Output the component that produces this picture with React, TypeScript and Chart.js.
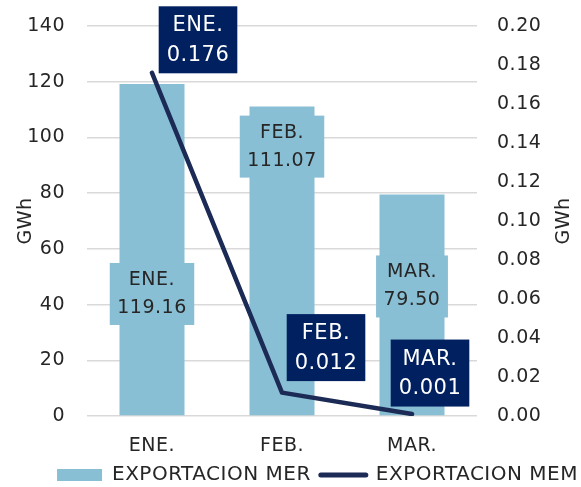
import React, { useEffect, useRef } from 'react';
import { Chart, registerables } from 'chart.js';

Chart.register(...registerables);

// ---------- data ----------
const categories = ['ENE.', 'FEB.', 'MAR.'];
const merValues = [119.16, 111.07, 79.5];
const memValues = [0.176, 0.012, 0.001];
const merLabels = ['119.16', '111.07', '79.50'];
const memLabels = ['0.176', '0.012', '0.001'];
const seriesNames = ['EXPORTACION MER', 'EXPORTACION MEM'];
const axisTitle = 'GWh';

// ---------- label placement (manual, like the source) ----------
const BAR_LABEL_CENTER = [43.8, 96.7, 46.5]; // in GWh (left axis units)
const LINE_LABEL_OFFSET = [
  [46, -33],
  [44, -45],
  [18, -41],
];

// ---------- styles ----------
const FONT = 'DejaVu Sans';
const LS = '0.5px';
const BAR_COLOR = '#89BFD4';
const LINE_COLOR = '#1C2A56';
const BOX_NAVY = '#002060';
const TEXT = '#262626';
const GRID = '#D9D9D9';

const labelsPlugin = {
  id: 'boxLabels',
  beforeUpdate(chart: any) {
    chart.ctx.letterSpacing = LS;
  },
  beforeDraw(chart: any) {
    chart.ctx.letterSpacing = LS;
  },
  afterLayout(chart: any) {
    const lg = chart.legend;
    if (lg) {
      const dx = 27;
      lg.left += dx;
      lg.right += dx;
    }
  },
  afterDatasetsDraw(chart: any) {
    const ctx = chart.ctx;
    const yS = chart.scales.y;
    const barMeta = chart.getDatasetMeta(0);
    const lineMeta = chart.getDatasetMeta(1);
    ctx.save();
    ctx.letterSpacing = LS;
    ctx.textAlign = 'center';
    ctx.textBaseline = 'middle';

    ctx.font = `19px "${FONT}"`;
    barMeta.data.forEach((el: any, i: number) => {
      const lines = [categories[i], merLabels[i]];
      const w = Math.max(...lines.map((t) => ctx.measureText(t).width)) + 15;
      const h = 62;
      const cx = el.x;
      const cy = yS.getPixelForValue(BAR_LABEL_CENTER[i]);
      ctx.fillStyle = BAR_COLOR;
      ctx.fillRect(cx - w / 2, cy - h / 2, w, h);
      ctx.fillStyle = TEXT;
      ctx.fillText(lines[0], cx, cy - 14);
      ctx.fillText(lines[1], cx, cy + 14);
    });

    ctx.font = `21px "${FONT}"`;
    lineMeta.data.forEach((el: any, i: number) => {
      const lines = [categories[i], memLabels[i]];
      const w = Math.max(...lines.map((t) => ctx.measureText(t).width)) + 16;
      const h = 67;
      const cx = el.x + LINE_LABEL_OFFSET[i][0];
      const cy = el.y + LINE_LABEL_OFFSET[i][1];
      ctx.fillStyle = BOX_NAVY;
      ctx.fillRect(cx - w / 2, cy - h / 2, w, h);
      ctx.fillStyle = '#FFFFFF';
      ctx.fillText(lines[0], cx, cy - 14);
      ctx.fillText(lines[1], cx, cy + 15.5);
    });
    ctx.restore();
  },
  afterDraw(chart: any) {
    const ctx = chart.ctx;
    const area = chart.chartArea;
    ctx.save();
    ctx.letterSpacing = LS;
    ctx.font = `19px "${FONT}"`;
    ctx.fillStyle = TEXT;
    ctx.textAlign = 'center';
    ctx.textBaseline = 'middle';
    ctx.translate(564, (area.top + area.bottom) / 2);
    ctx.rotate(-Math.PI / 2);
    ctx.fillText(axisTitle, 0, 0);
    ctx.restore();
  },
};

export default function App() {
  const ref = useRef<HTMLCanvasElement>(null);

  useEffect(() => {
    document.body.style.margin = '0';
    const canvas = ref.current!;
    const font = { family: FONT, size: 19 };
    const chart = new Chart(canvas, {
      type: 'bar',
      data: {
        labels: categories,
        datasets: [
          {
            type: 'bar',
            label: seriesNames[0],
            data: merValues,
            backgroundColor: BAR_COLOR,
            borderWidth: 0,
            barPercentage: 0.5,
            categoryPercentage: 1.0,
            yAxisID: 'y',
            order: 1,
          },
          {
            type: 'line',
            label: seriesNames[1],
            data: memValues,
            borderColor: LINE_COLOR,
            backgroundColor: LINE_COLOR,
            borderWidth: 4.5,
            borderCapStyle: 'round',
            borderJoinStyle: 'round',
            tension: 0,
            pointRadius: 0,
            yAxisID: 'y1',
            order: 0,
          },
        ],
      } as any,
      options: {
        animation: false,
        responsive: false,
        devicePixelRatio: 1,
        layout: { padding: { top: 26, left: 0, right: 0, bottom: 0 } },
        plugins: {
          tooltip: { enabled: false },
          legend: {
            position: 'bottom',
            maxHeight: 32,
            labels: {
              font: { family: FONT, size: 20 },
              color: TEXT,
              padding: 10,
              usePointStyle: true,
              pointStyleWidth: 45,
              boxHeight: 12,
              generateLabels: () => [
                {
                  text: seriesNames[0],
                  fillStyle: BAR_COLOR,
                  strokeStyle: BAR_COLOR,
                  lineWidth: 0,
                  pointStyle: 'rect',
                  datasetIndex: 0,
                  fontColor: TEXT,
                  hidden: false,
                },
                {
                  text: seriesNames[1],
                  fillStyle: LINE_COLOR,
                  strokeStyle: LINE_COLOR,
                  lineWidth: 5,
                  lineCap: 'round',
                  pointStyle: 'line',
                  datasetIndex: 1,
                  fontColor: TEXT,
                  hidden: false,
                },
              ],
            },
          },
        },
        scales: {
          x: {
            grid: { display: false, drawTicks: false },
            border: { display: false },
            ticks: { font, color: TEXT, padding: 19 },
            afterFit: (s: any) => {
              s.height = 39;
            },
          },
          y: {
            position: 'left',
            min: 0,
            max: 140,
            ticks: { stepSize: 20, font, color: TEXT, padding: 22 },
            grid: { color: GRID, lineWidth: 1.5, drawTicks: false },
            border: { display: false },
            title: { display: true, text: axisTitle, font, color: TEXT, padding: { top: 15, bottom: 0 } },
            afterFit: (s: any) => {
              s.width = 87;
              s.paddingTop = 0;
              s.paddingBottom = 0;
            },
          },
          y1: {
            position: 'right',
            min: 0,
            max: 0.2,
            ticks: {
              stepSize: 0.02,
              font,
              color: TEXT,
              padding: 20,
              callback: (v: any) => Number(v).toFixed(2),
            },
            grid: { display: false, drawTicks: false },
            border: { display: false },
            afterFit: (s: any) => {
              s.width = 104;
              s.paddingTop = 0;
              s.paddingBottom = 0;
            },
          },
        },
      } as any,
      plugins: [labelsPlugin],
    });
    return () => chart.destroy();
  }, []);

  return (
    <div style={{ position: 'absolute', left: 0, top: 0, width: 581, height: 487 }}>
      <canvas ref={ref} width={581} height={487} />
    </div>
  );
}
